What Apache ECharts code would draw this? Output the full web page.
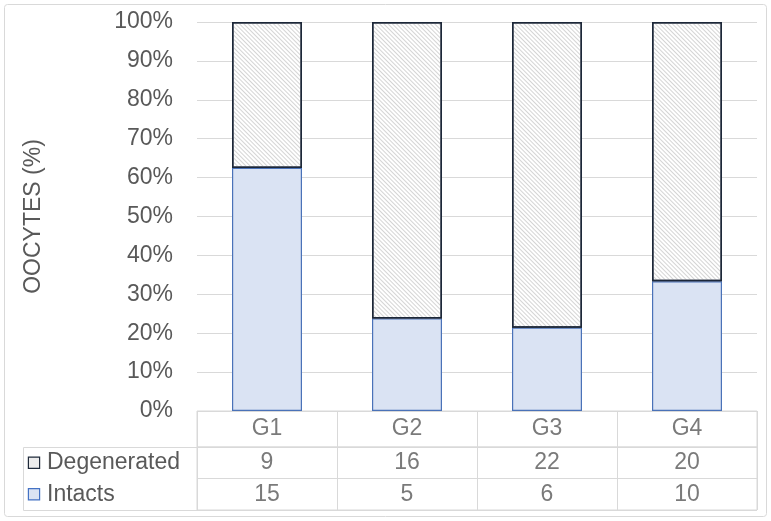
<!DOCTYPE html>
<html><head><meta charset="utf-8">
<script src="https://cdn.jsdelivr.net/npm/echarts@6/dist/echarts.min.js"></script>
<style>html,body{margin:0;padding:0;background:#fff}#c{width:771px;height:521px}</style>
</head><body><div id="c"></div>
<script>
const categories = ['G1', 'G2', 'G3', 'G4'];
const degenerated = [9, 16, 22, 20];
const intacts = [15, 5, 6, 10];
const rowNames = ['Degenerated', 'Intacts'];
const yTicks = [0, 10, 20, 30, 40, 50, 60, 70, 80, 90, 100];

const pctIntact = intacts.map((v, i) => v / (v + degenerated[i]) * 100);
const pctDegen = degenerated.map((v, i) => v / (v + intacts[i]) * 100);

const FONT = '"Liberation Sans", Arial, sans-serif';
const TXT = '#595959';
const GRID = '#d9d9d9';
const FS = 23;

const headerData = categories.map((c, i) => ({ value: [i, 0], label: { formatter: c } }));
const tableData = [];
categories.forEach((c, i) => {
  tableData.push({ value: [i, 0], label: { formatter: String(degenerated[i]) } });
  tableData.push({ value: [i, 1], label: { formatter: String(intacts[i]) } });
});

const catAxisHidden = (gi, split) => ({ type: 'category', gridIndex: gi, data: categories, axisLine: { show: false }, axisTick: { show: false }, axisLabel: { show: false },
  splitLine: { show: split, lineStyle: { color: GRID } } });

const chart = echarts.init(document.getElementById('c'), null, { renderer: 'canvas' });
chart.setOption({
  animation: false,
  textStyle: { fontFamily: FONT },
  graphic: [
    { type: 'rect', shape: { x: 4.5, y: 4.5, width: 762, height: 512, r: 3 }, style: { fill: 'none', stroke: GRID, lineWidth: 1 }, z: 0 },
    { type: 'polyline', shape: { points: [[197, 447.5], [23.5, 447.5], [23.5, 510.5], [197, 510.5]] }, style: { fill: 'none', stroke: GRID, lineWidth: 1 }, z: 0 }
  ],
  grid: [
    { left: 197, right: 14, top: 22, bottom: 110 },
    { left: 197, right: 14, top: 411, height: 36, show: true, borderColor: GRID, borderWidth: 1 },
    { left: 197, right: 14, top: 447, height: 63, show: true, borderColor: GRID, borderWidth: 1 }
  ],
  xAxis: [
    catAxisHidden(0, false),
    catAxisHidden(1, true),
    catAxisHidden(2, true)
  ],
  yAxis: [
    { type: 'value', gridIndex: 0, min: 0, max: 100, interval: 10,
      name: 'OOCYTES (%)', nameLocation: 'middle', nameGap: 152, nameRotate: 90,
      nameTextStyle: { fontSize: FS, color: TXT, fontFamily: FONT },
      axisLine: { show: false }, axisTick: { show: false },
      axisLabel: { formatter: v => yTicks.includes(v) ? v + '%' : '', fontSize: FS, color: TXT, margin: 24, fontFamily: FONT },
      splitLine: { lineStyle: { color: GRID } } },
    { type: 'category', gridIndex: 1, data: [''], axisLine: { show: false }, axisTick: { show: false }, axisLabel: { show: false }, splitLine: { show: false } },
    { type: 'category', gridIndex: 2, data: rowNames, inverse: true,
      axisLine: { show: false }, axisTick: { show: false },
      splitLine: { show: true, lineStyle: { color: GRID } },
      axisLabel: {
        align: 'left', margin: 168, fontFamily: FONT,
        formatter: v => v === 'Degenerated' ? '{d| }{t|' + v + '}' : '{i| }{t|' + v + '}',
        rich: {
          d: { width: 10, height: 10, backgroundColor: '#ececec', borderColor: '#1f2a3a', borderWidth: 1.2 },
          i: { width: 10, height: 10, backgroundColor: '#dae3f3', borderColor: '#4472c4', borderWidth: 1.2 },
          t: { fontSize: FS, color: TXT, padding: [0, 0, 0, 8], fontFamily: FONT }
        }
      } }
  ],
  series: [
    { name: 'Intacts', type: 'bar', stack: 's', xAxisIndex: 0, yAxisIndex: 0, barWidth: '50%', data: pctIntact,
      itemStyle: { color: '#dae3f3', borderColor: '#4a72b8', borderWidth: 1.2 } },
    { name: 'Degenerated', type: 'bar', stack: 's', xAxisIndex: 0, yAxisIndex: 0, barWidth: '50%', data: pctDegen,
      itemStyle: { color: '#ffffff', borderColor: '#1c2738', borderWidth: 1.5,
        decal: { symbol: 'rect', symbolSize: 1, dashArrayX: [1, 0], dashArrayY: [1, 2], rotation: Math.PI / 4, color: 'rgba(160,160,160,0.45)' } } },
    { type: 'scatter', xAxisIndex: 1, yAxisIndex: 1, symbolSize: 0, data: headerData, silent: true,
      label: { show: true, position: 'inside', fontSize: FS, color: TXT, fontFamily: FONT } },
    { type: 'scatter', xAxisIndex: 2, yAxisIndex: 2, symbolSize: 0, data: tableData, silent: true,
      label: { show: true, position: 'inside', fontSize: FS, color: TXT, fontFamily: FONT } }
  ]
});
</script></body></html>
